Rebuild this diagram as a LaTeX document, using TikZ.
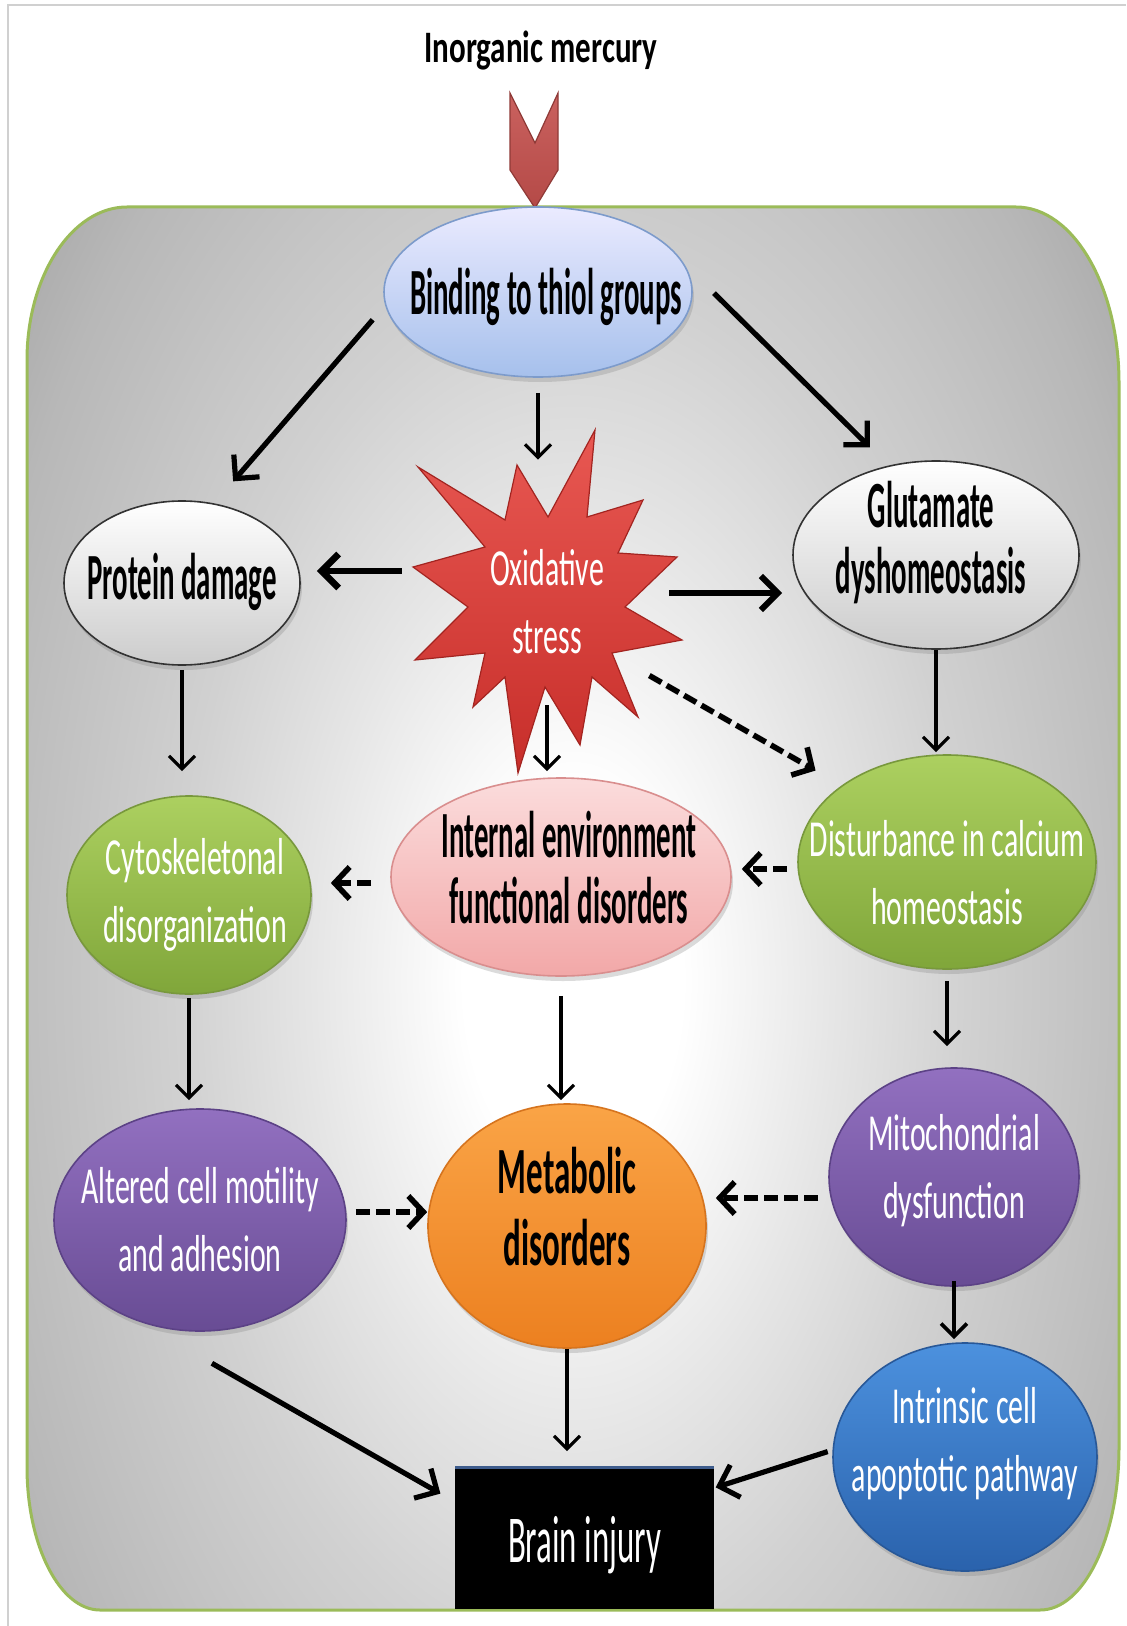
\documentclass[tikz,border=0pt]{standalone}
\usepackage{fontspec}
\setmainfont{Carlito}
\usepackage{graphicx}
\usetikzlibrary{shapes.geometric,arrows.meta,shadows,calc}

\definecolor{frameline}{HTML}{D0D0D0}
\definecolor{panelborder}{HTML}{9BBB59}
\definecolor{chevfill}{HTML}{C4504D}
\definecolor{chevdraw}{HTML}{8F3A37}
\definecolor{boxtop}{RGB}{62,92,140}

% soft grey panel: white centre fading to grey towards the rim
\pgfdeclareradialshading{panelshade}{\pgfpoint{0bp}{0bp}}{%
  color(0bp)=(white); color(5bp)=(white); color(12bp)=(gray!20);
  color(18bp)=(gray!36); color(28bp)=(gray!56); color(35bp)=(gray!76); color(50bp)=(gray!85)}

% squeezed, centred block of lines of zero width
\newcommand\sq[2]{\makebox[0pt]{\scalebox{#1}[1]{\begin{tabular}{@{}c@{}}#2\end{tabular}}}}

\begin{document}
\begin{tikzpicture}[x=0.5pt,y=-0.5pt,
  ell/.style={ellipse, inner sep=0pt, line width=0.8pt,
    drop shadow={opacity=0.28, shadow xshift=1pt, shadow yshift=-2.5pt}},
  bluefill/.style={top color=blue!8!white, bottom color={rgb,255:red,166;green,192;blue,236}, draw={rgb,255:red,125;green,155;blue,203}},
  greyfill/.style={top color=white, bottom color=gray!40, draw=black!80},
  pinkfill/.style={top color={rgb,255:red,251;green,220;blue,220}, bottom color={rgb,255:red,242;green,168;blue,168}, draw={rgb,255:red,217;green,142;blue,142}},
  greenfill/.style={top color={rgb,255:red,172;green,208;blue,96}, bottom color={rgb,255:red,128;green,166;blue,58}, draw={rgb,255:red,120;green,152;blue,60}},
  purplefill/.style={top color={rgb,255:red,146;green,112;blue,192}, bottom color={rgb,255:red,104;green,76;blue,148}, draw={rgb,255:red,92;green,66;blue,134}},
  orangefill/.style={top color={rgb,255:red,250;green,164;blue,70}, bottom color={rgb,255:red,236;green,128;blue,32}, draw={rgb,255:red,214;green,116;blue,30}},
  bluedeep/.style={top color={rgb,255:red,76;green,145;blue,222}, bottom color={rgb,255:red,42;green,98;blue,172}, draw={rgb,255:red,40;green,88;blue,152}},
  btxt/.style={inner sep=0pt, text=black, font=\bfseries\fontsize{33}{33}\selectfont},
  wtxt/.style={inner sep=0pt, text=white, font=\fontsize{26}{34}\selectfont},
  arrT/.style={line width=1.6pt, -{Straight Barb[length=6.5pt,width=13pt]}},
  arrK/.style={line width=2.6pt, -{Straight Barb[length=8.5pt,width=17pt]}},
  arrD/.style={line width=2.8pt, dash pattern=on 7pt off 3pt, -{Straight Barb[length=7.5pt,width=16pt]}}]

\useasboundingbox (0,0) rectangle (1126,1626);
\fill[white] (0,0) rectangle (1126,1626);
\draw[frameline, line width=1pt] (8,1626) -- (8,5) -- (1126,5);

% rounded grey panel
\begin{scope}
  \clip (127,207) -- (1016,207) .. controls (1073,207) and (1119,286) .. (1119,383)
    -- (1119,1447) .. controls (1119,1537) and (1084,1610) .. (1040,1610)
    -- (100,1610) .. controls (60,1610) and (27,1546) .. (27,1467)
    -- (27,360) .. controls (27,276) and (72,207) .. (127,207) -- cycle;
  \shade[shading=panelshade] (27,20) rectangle (1119,1940);
\end{scope}
\draw[panelborder, line width=1.5pt]
  (127,207) -- (1016,207) .. controls (1073,207) and (1119,286) .. (1119,383)
  -- (1119,1447) .. controls (1119,1537) and (1084,1610) .. (1040,1610)
  -- (100,1610) .. controls (60,1610) and (27,1546) .. (27,1467)
  -- (27,360) .. controls (27,276) and (72,207) .. (127,207) -- cycle;

% title and notched arrow
\node[btxt, font=\bfseries\fontsize{22.5}{27}\selectfont] (hg) at (541,52) {\sq{0.69}{Inorganic mercury}};
\path[draw=chevdraw, line width=0.6pt, top color=chevfill!90!white, bottom color=chevfill!92!black]
  (510,93) -- (535,143) -- (558,93) -- (558,170) -- (535,208) -- (510,170) -- cycle;

% oxidative stress burst
\path[draw={rgb,255:red,163;green,36;blue,32}, line width=0.6pt,
  top color={rgb,255:red,232;green,88;blue,82}, bottom color={rgb,255:red,199;green,46;blue,42}]
  (418,467) -- (505,520) -- (517,465) -- (548,517) -- (595,430) -- (587,517)
  -- (643,500) -- (618,553) -- (677,557) -- (625,607) -- (682,640) -- (612,653)
  -- (638,717) -- (592,677) -- (580,745) -- (545,687) -- (518,773) -- (505,677)
  -- (473,707) -- (485,653) -- (415,660) -- (468,607) -- (413,567) -- (485,547) -- cycle;
\node[circle, inner sep=0pt, minimum size=133pt] (ox) at (547,603) {};

% process nodes
\node[ell, bluefill, minimum width=154pt, minimum height=85pt] (bind) at (538,292) {};
\node[ell, greyfill, minimum width=118pt, minimum height=82pt] (prot) at (182,583) {};
\node[ell, greyfill, minimum width=143pt, minimum height=94pt] (glut) at (936,555) {};
\node[ell, pinkfill, minimum width=170pt, minimum height=99pt] (intl) at (561,877) {};
\node[ell, greenfill, minimum width=149pt, minimum height=107pt] (dist) at (947,862) {};
\node[ell, greenfill, minimum width=122pt, minimum height=99pt] (cyto) at (189,895) {};
\node[ell, purplefill, minimum width=146pt, minimum height=111pt] (alt) at (200,1220) {};
\node[ell, orangefill, minimum width=139pt, minimum height=122pt] (met) at (567,1226) {};
\node[ell, purplefill, minimum width=125pt, minimum height=109pt] (mito) at (954,1177) {};
\node[ell, bluedeep, minimum width=132pt, minimum height=114pt] (intr) at (965,1457) {};
\node[rectangle, inner sep=0pt, fill=black, draw=black, line width=0.8pt,
  minimum width=128.5pt, minimum height=70pt] (brain) at (584.5,1538) {};
\draw[draw=boxtop, line width=1.6pt] (brain.north west) -- (brain.north east);

% labels
\node[btxt] (bind-t) at ([xshift=4pt,yshift=-4.5pt]bind) {\sq{0.437}{Binding to thiol groups}};
\node[btxt] (prot-t) at ([yshift=-1.5pt]prot) {\sq{0.437}{Protein damage}};
\node[btxt] (glut-t) at ([xshift=-2.5pt,yshift=4pt]glut) {\sq{0.437}{Glutamate\\dyshomeostasis}};
\node[btxt] (intl-t) at ([xshift=4pt]intl) {\sq{0.437}{Internal environment\\functional disorders}};
\node[btxt, font=\bfseries\fontsize{33}{36}\selectfont] (met-t) at ([yshift=5.5pt]met) {\sq{0.5}{Metabolic\\disorders}};
\node[wtxt] (ox-t) at ([yshift=-1.5pt]ox) {\sq{0.575}{Oxidative\\stress}};
\node[wtxt] (dist-t) at ([yshift=-7.5pt]dist) {\sq{0.575}{Disturbance in calcium\\homeostasis}};
\node[wtxt] (cyto-t) at ([xshift=3pt]cyto) {\sq{0.575}{Cytoskeletonal\\disorganization}};
\node[wtxt] (alt-t) at ([yshift=-2pt]alt) {\sq{0.575}{Altered cell motility\\and adhesion}};
\node[wtxt] (mito-t) at ([yshift=3pt]mito) {\sq{0.575}{Mitochondrial\\dysfunction}};
\node[wtxt] (intr-t) at ([yshift=6.5pt]intr) {\sq{0.575}{Intrinsic cell\\apoptotic pathway}};
\node[wtxt, font=\fontsize{33.5}{34}\selectfont] (brain-t) at ([yshift=-5.5pt]brain) {\sq{0.49}{Brain injury}};

% connectors
\draw[arrK, shorten <=9.5pt, shorten >=14.5pt] (bind.185) -- (prot.68);
\draw[arrT, shorten <=7.5pt, shorten >=5pt] (bind.south) -- (bind.south |- ox.north);
\draw[arrK, shorten <=21pt, shorten >=13pt] (bind.11) -- (glut.118);
\draw[arrK, line width=3.4pt, shorten <=6pt, shorten >=8pt] ([yshift=16pt]ox.west) -- ([yshift=16pt]ox.west -| prot.east);
\draw[arrK, line width=3pt, shorten >=5pt] ([xshift=-5.5pt,yshift=5pt]ox.east) -- ([yshift=5pt]ox.east -| glut.west);
\draw[arrT, shorten >=3pt] ([yshift=15.5pt]ox.south) -- (ox.south |- intl.north);
\draw[arrD, shorten <=-4pt, shorten >=15pt] (ox.-35) -- (dist.144);
\draw[arrT, shorten <=2pt, shorten >=12pt] (prot.south) -- (prot.south |- cyto.north);
\draw[arrT, shorten >=1pt] (glut.south) -- (glut.south |- dist.north);
\draw[arrD, shorten <=9.5pt, shorten >=9.5pt] ([yshift=-3pt]intl.west) -- ([yshift=-3pt]intl.west -| cyto.east);
\draw[arrD, shorten <=5pt, shorten >=5pt] ([yshift=-3.5pt]dist.west) -- ([yshift=-3.5pt]dist.west -| intl.east);
\draw[arrT, shorten <=1.5pt, shorten >=4pt] (cyto.south) -- (cyto.south |- alt.north);
\draw[arrT, shorten <=9.5pt, shorten >=1.5pt] (intl.south) -- (intl.south |- met.north);
\draw[arrT, shorten <=5.5pt, shorten >=10.5pt] (dist.south) -- (dist.south |- mito.north);
\draw[arrD, shorten <=4.5pt] ([yshift=4pt]alt.east) -- ([yshift=4pt]alt.east -| met.west);
\draw[arrD, shorten <=5pt, shorten >=4.5pt] ([yshift=-10.5pt]mito.west) -- ([yshift=-10.5pt]mito.west -| met.east);
\draw[arrT, line width=1.9pt, shorten <=-3pt, shorten >=1.5pt] (mito.south) -- (mito.south |- intr.north);
\draw[arrK, shorten <=42pt, shorten >=8.5pt] (alt.239) -- ([yshift=18pt]brain.west);
\draw[arrT, shorten >=8pt] (met.south) -- (met.south |- brain.north);
\draw[arrK, shorten <=2.5pt, shorten >=1pt] (intr.177) -- ([yshift=25pt]brain.east);
\end{tikzpicture}
\end{document}
